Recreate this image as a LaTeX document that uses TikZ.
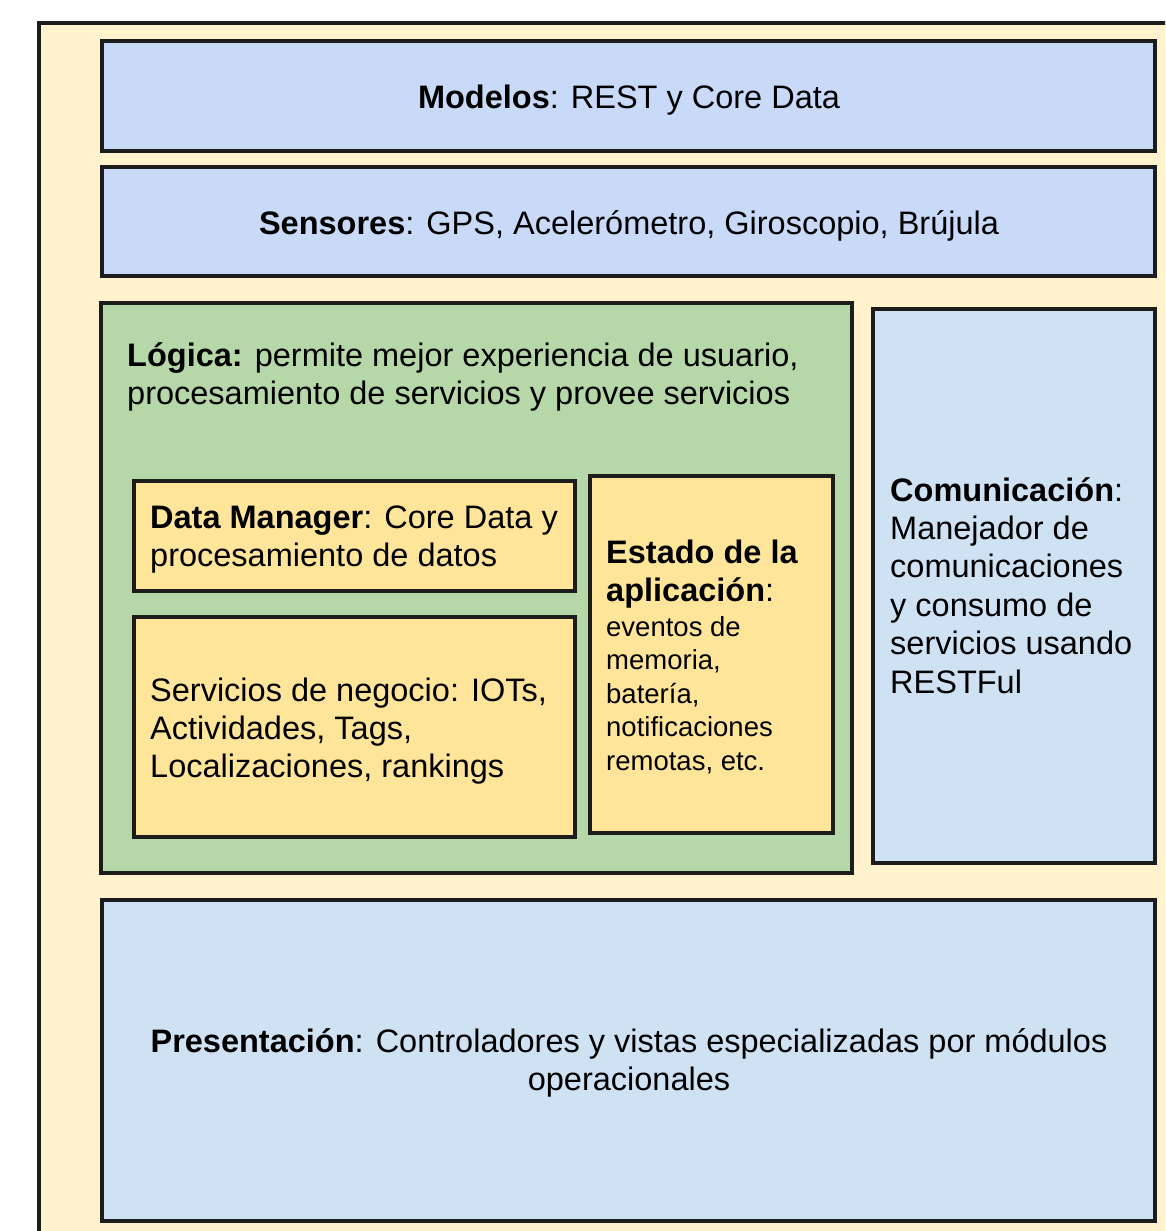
\documentclass[tikz,border=0pt]{standalone}
\usepackage{fontspec}
\setmainfont{Liberation Sans}
\definecolor{cream}{HTML}{FFF2CC}
\definecolor{blueA}{HTML}{C9DAF8}
\definecolor{blueB}{HTML}{CFE2F3}
\definecolor{greenA}{HTML}{B6D7A8}
\definecolor{yellowA}{HTML}{FFE599}
\definecolor{edge}{HTML}{1C1C1C}
\tikzset{
  layer/.style={draw=edge, line width=3.2pt},
  big/.style={font=\fontsize{32.5}{38.4}\selectfont, inner sep=0pt},
  small/.style={font=\fontsize{27.5}{33.5}\selectfont, inner sep=0pt},
}
\begin{document}
\begin{tikzpicture}[x=1pt,y=-1pt]
\useasboundingbox (0,0) rectangle (1165,1231);
\fill[white] (0,0) rectangle (1165,1231);
\begin{scope}
\clip (0,0) rectangle (1165,1231);
\draw[layer, fill=cream] (39,23) rectangle (1180,1250);
\end{scope}
% boxes
\draw[layer, fill=blueA] (102,41) rectangle (1155,151);
\draw[layer, fill=blueA] (102,167) rectangle (1155,276);
\draw[layer, fill=greenA] (101,303) rectangle (852,873);
\draw[layer, fill=blueB] (873,309) rectangle (1155,863);
\draw[layer, fill=yellowA] (134,481) rectangle (575,591);
\draw[layer, fill=yellowA] (134,617) rectangle (575,837);
\draw[layer, fill=yellowA] (590,476) rectangle (833,833);
\draw[layer, fill=blueB] (102,900) rectangle (1155,1221);
% texts (base anchor of a multi-line node = baseline of its last line)
\node[big, anchor=base] (modelos) at (629,108) {\textbf{Modelos}: REST y Core Data};
\node[big, anchor=base] (sensores) at (629,234) {\textbf{Sensores}: GPS, Acelerómetro, Giroscopio, Brújula};
\node[big, anchor=base west, align=left] (logica) at (127,404.4) {\textbf{Lógica:} permite mejor experiencia de usuario,\\procesamiento de servicios y provee servicios};
\node[big, anchor=base west, align=left] (datam) at (150,566.4) {\textbf{Data Manager}: Core Data y\\procesamiento de datos};
\node[big, anchor=base west, align=left] (serv) at (150,777.8) {Servicios de negocio: IOTs,\\Actividades, Tags,\\Localizaciones, rankings};
\node[big, anchor=base west, align=left] (estado) at (606,601.4) {\textbf{Estado de la}\\\textbf{aplicación}:};
\node[small, anchor=base west, align=left] (estadot) at (606,770) {eventos de\\memoria,\\batería,\\notificaciones\\remotas, etc.};
\node[big, anchor=base west, align=left] (comu) at (890,693) {\textbf{Comunicación}:\\Manejador de\\comunicaciones\\y consumo de\\servicios usando\\RESTFul};
\node[big, anchor=base, align=center] (pres) at (629,1090.4) {\textbf{Presentación}: Controladores y vistas especializadas por módulos\\operacionales};
\end{tikzpicture}
\end{document}
